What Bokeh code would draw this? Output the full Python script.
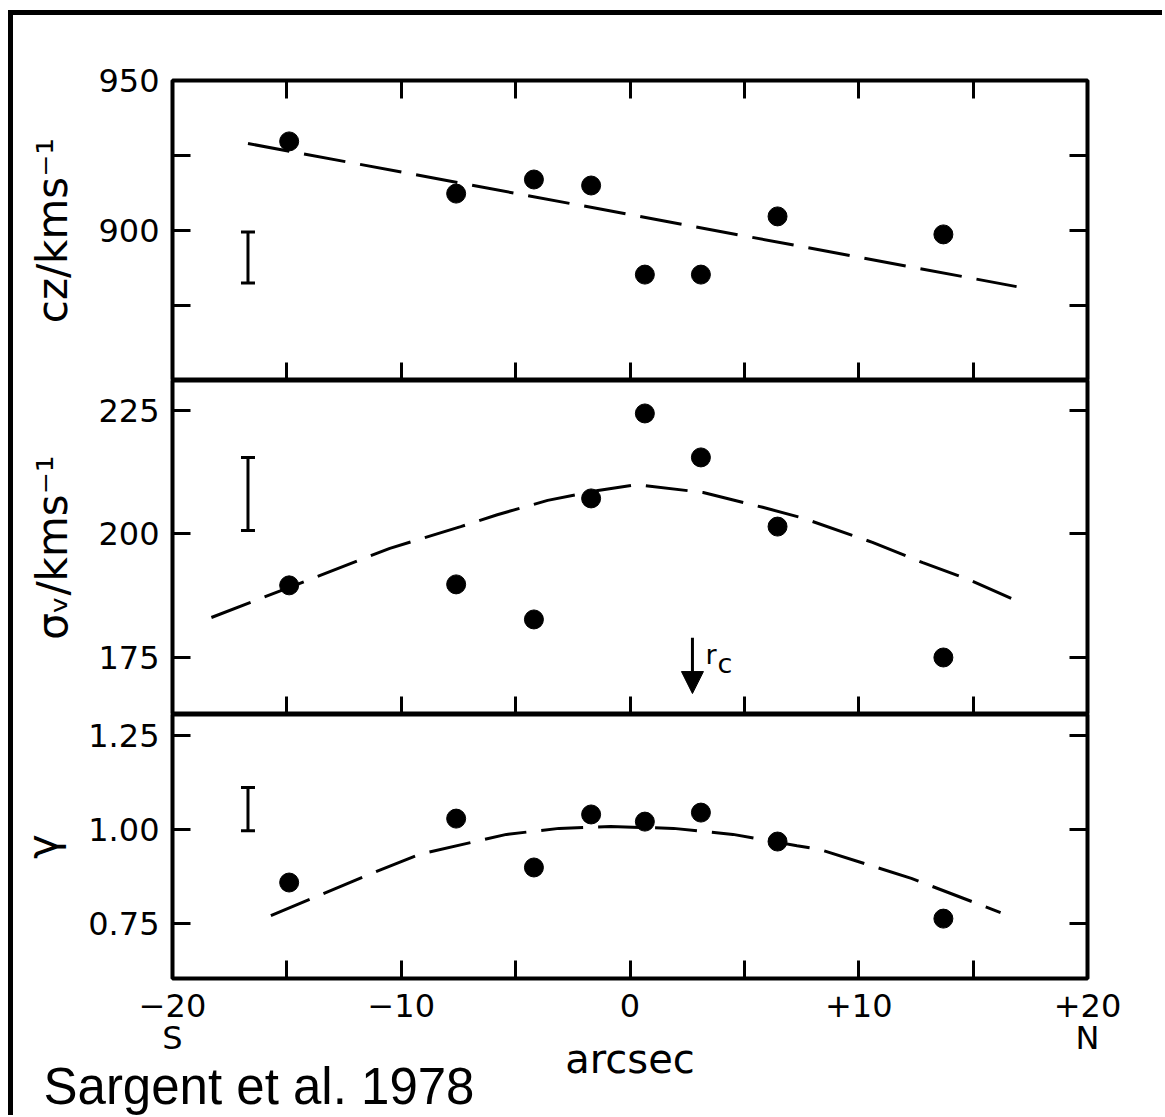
from bokeh.plotting import figure
from bokeh.models import (LinearAxis, FixedTicker, Range1d, Label, Arrow, NormalHead,
                          Whisker, TeeHead, ColumnDataSource, Title)
from bokeh.layouts import column
from bokeh.embed import file_html
from bokeh.resources import INLINE

# Slit positions along the major axis (arcsec; S negative, N positive)
offsets = [-14.9, -7.6, -4.2, -1.7, 0.65, 3.1, 6.45, 13.7]
cz = [929.7, 912.3, 917.0, 915.0, 885.3, 885.3, 904.7, 898.7]
sigma = [189.6, 189.8, 182.7, 207.2, 224.4, 215.5, 201.5, 175.0]
gamma = [0.859, 1.029, 0.899, 1.040, 1.021, 1.045, 0.968, 0.763]

# Model curves (dashed)
cz_model_x = [-16.7, 16.9]
cz_model = [929.0, 881.3]
sigma_model_x = [-18.3, -15.0, -10.5, -7.4, -5.8, -3.6, -1.4, 0.3, 3.2, 5.8, 7.5,
                 10.6, 12.8, 14.9, 16.9]
sigma_model = [183.1, 189.0, 197.1, 201.5, 203.9, 206.8, 208.8, 210.0, 208.4, 205.4,
               203.3, 198.3, 194.2, 190.6, 186.5]
gamma_model_x = [-15.7, -11.3, -9.2, -5.4, -3.1, -0.85, 1.9, 4.5, 7.3, 8.3, 12.3, 16.2]
gamma_model = [0.771, 0.883, 0.934, 0.987, 1.003, 1.008, 1.003, 0.987, 0.957, 0.947,
               0.870, 0.779]

# Typical error bars
err_x = -16.7
cz_err = [882.5, 899.5]
sigma_err = [200.7, 215.5]
gamma_err = [0.997, 1.112]

# Core radius marker
rc_x = 2.73

# Axis ticks and labels
x_ticks = [-20, -15, -10, -5, 0, 5, 10, 15, 20]
x_tick_labels = ["\u221220\nS", "", "\u221210", "", "0", "", "+10", "", "+20\nN"]
cz_ticks = [875, 900, 925, 950]
cz_tick_labels = ["", "900", "", "950"]
sigma_ticks = [175, 200, 225]
sigma_tick_labels = ["175", "200", "225"]
gamma_ticks = [0.75, 1, 1.25]
gamma_tick_labels = ["0.75", "1.00", "1.25"]

FONT = "DejaVu Sans"
INNER_X = [t for t in x_ticks if -20 < t < 20]
LEFT = 159   # left border of each panel (page edge sits outside the figures)
RIGHT = 60


def make_panel(frame_h, top, bottom, y_lo, y_hi):
    p = figure(frame_width=915, frame_height=frame_h,
               min_border_left=LEFT, min_border_right=RIGHT,
               min_border_top=top, min_border_bottom=bottom,
               x_range=Range1d(-20, 20), y_range=Range1d(y_lo, y_hi),
               x_axis_location=None, y_axis_location=None,
               toolbar_location=None, output_backend="svg")
    p.grid.visible = False
    p.outline_line_color = "black"
    p.outline_line_width = 4
    p.background_fill_color = "white"
    p.border_fill_color = "white"
    return p


def tick_axis(ticks, labels=None, size="32px", standoff=13):
    ax = LinearAxis(ticker=FixedTicker(ticks=ticks))
    ax.axis_line_color = None
    ax.major_tick_in = 18
    ax.major_tick_out = 0
    ax.major_tick_line_width = 3
    ax.major_tick_line_color = "black"
    ax.minor_tick_line_color = None
    if labels is None:
        ax.major_label_overrides = {t: "" for t in ticks}
        ax.major_label_text_font_size = "0px"
        ax.major_label_standoff = 0
    else:
        ax.major_label_overrides = dict(zip(ticks, labels))
        ax.major_label_text_font = FONT
        ax.major_label_text_font_size = size
        ax.major_label_text_color = "black"
        ax.major_label_standoff = standoff
    return ax


def axis_title(ax, text, standoff, size="42px"):
    ax.axis_label = text
    ax.axis_label_text_font = FONT
    ax.axis_label_text_font_size = size
    ax.axis_label_text_font_style = "normal"
    ax.axis_label_text_color = "black"
    ax.axis_label_standoff = standoff


def dashed(p, x, y):
    p.line(x, y, line_color="black", line_width=3, line_dash="42 15")


def points(p, x, y):
    p.scatter(x, y, size=19, marker="circle", fill_color="black", line_color="black")


def err_bar(p, lo_hi):
    src = ColumnDataSource(dict(base=[err_x], lower=[lo_hi[0]], upper=[lo_hi[1]]))
    head = dict(size=14, line_width=3, line_color="black")
    p.add_layout(Whisker(source=src, base="base", lower="lower", upper="upper",
                         dimension="height", line_width=3, line_color="black",
                         upper_head=TeeHead(**head), lower_head=TeeHead(**head)))


# ---- top panel: radial velocity ----
f1 = make_panel(300, 65, 0, 850, 950)
ax = tick_axis(cz_ticks, cz_tick_labels)
axis_title(ax, "cz/kms\u207b\u00b9", 18)
f1.add_layout(ax, "left")
f1.add_layout(tick_axis(cz_ticks), "right")
f1.add_layout(tick_axis(INNER_X), "above")
f1.add_layout(tick_axis(INNER_X), "below")
dashed(f1, cz_model_x, cz_model)
points(f1, offsets, cz)
err_bar(f1, cz_err)

# ---- middle panel: velocity dispersion ----
f2 = make_panel(334, 0, 0, 163.46, 231.07)
ax = tick_axis(sigma_ticks, sigma_tick_labels)
axis_title(ax, "\u03c3\u1d65/kms\u207b\u00b9", 18)
f2.add_layout(ax, "left")
f2.add_layout(tick_axis(sigma_ticks), "right")
f2.add_layout(tick_axis(INNER_X), "below")
dashed(f2, sigma_model_x, sigma_model)
points(f2, offsets, sigma)
err_bar(f2, sigma_err)
f2.add_layout(Arrow(end=NormalHead(size=22, fill_color="black", line_color="black"),
                    x_start=rc_x, y_start=179.0, x_end=rc_x, y_end=167.7,
                    line_width=3, line_color="black"))
f2.add_layout(Label(x=rc_x, y=175.6, x_offset=13, text="r", text_font=FONT,
                    text_font_size="27px", text_color="black",
                    text_baseline="alphabetic"))
f2.add_layout(Label(x=rc_x, y=175.6, x_offset=25, y_offset=-9, text="c",
                    text_font=FONT, text_font_size="27px", text_color="black",
                    text_baseline="alphabetic"))

# ---- bottom panel: line strength ----
f3 = make_panel(264, 0, 137, 0.6037, 1.3059)
ax = tick_axis(gamma_ticks, gamma_tick_labels)
axis_title(ax, "\u03b3", 18)
f3.add_layout(ax, "left")
f3.add_layout(tick_axis(gamma_ticks), "right")
xax = tick_axis(x_ticks, x_tick_labels, size="32px", standoff=8)
xax.major_label_text_line_height = 0.85
axis_title(xax, "arcsec", -24, size="40px")
f3.add_layout(xax, "below")
dashed(f3, gamma_model_x, gamma_model)
points(f3, offsets, gamma)
err_bar(f3, gamma_err)
f3.add_layout(Title(text="Sargent et al. 1978", align="left", offset=-129,
                    standoff=-57, text_font="Liberation Sans",
                    text_font_size="51px", text_font_style="normal",
                    text_color="black"), "below")

# Page edge of the scanned sheet (left and top rules)
layout = column(f1, f2, f3, spacing=0,
                styles={"border-left": "5px solid black",
                        "border-top": "5px solid black",
                        "margin": "10px 0 0 8px",
                        "padding-right": "15px"})
open("out.html", "w").write(file_html(layout, INLINE))
